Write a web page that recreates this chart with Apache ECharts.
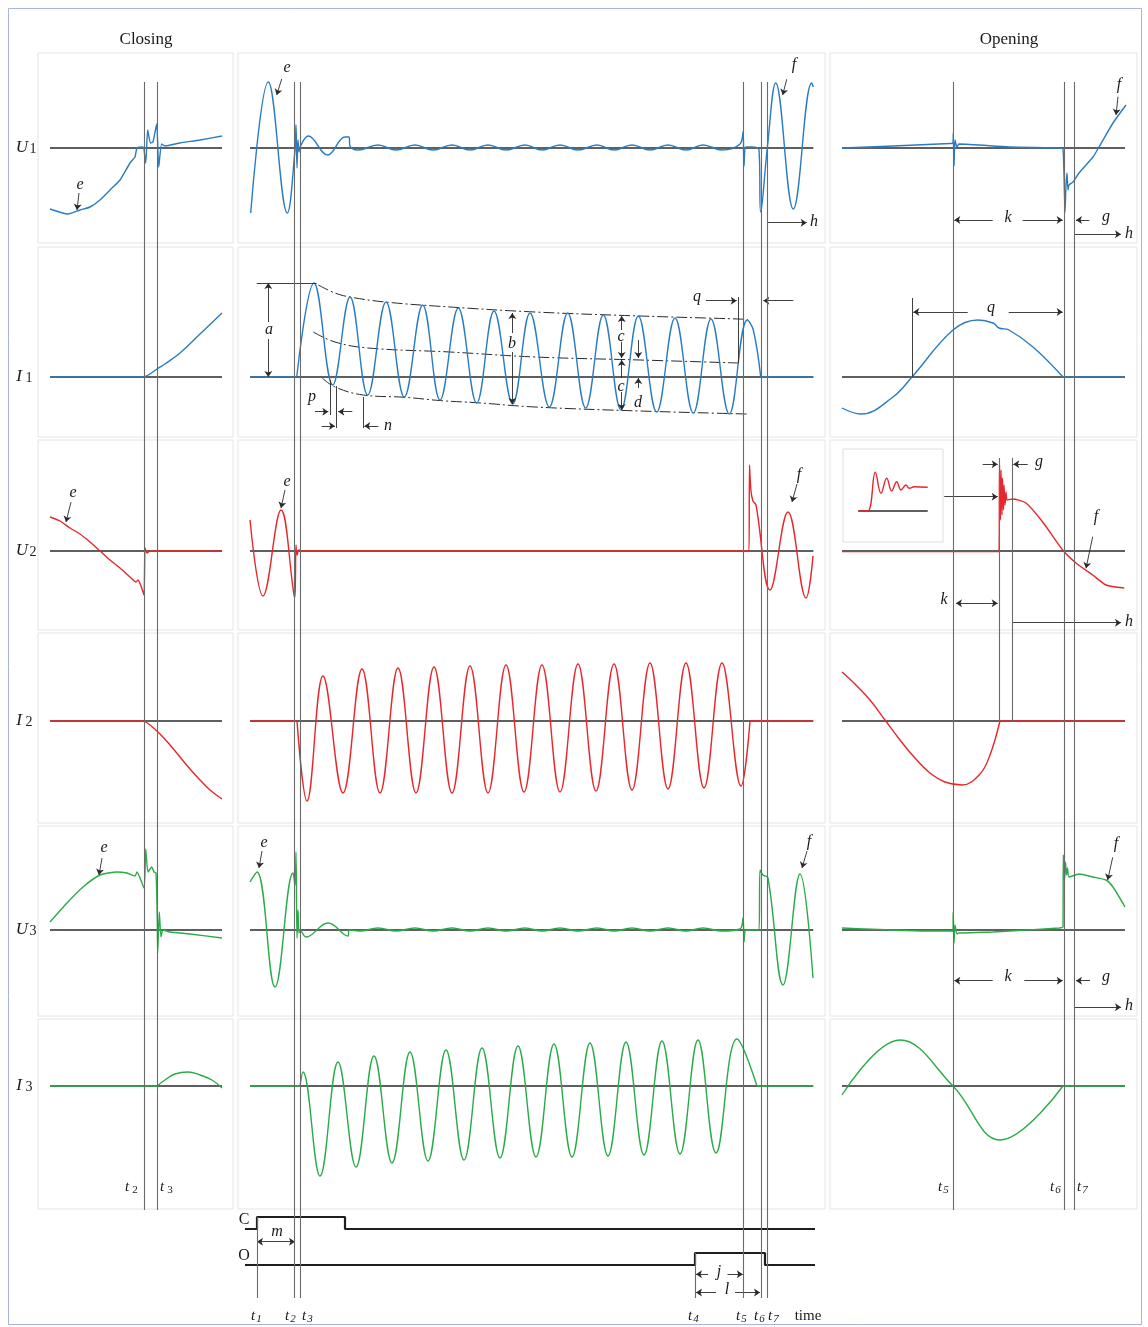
<!DOCTYPE html>
<html><head><meta charset="utf-8">
<script src="https://cdn.jsdelivr.net/npm/echarts@6/dist/echarts.min.js"></script>
<style>html,body{margin:0;padding:0;background:#fff}#c{width:1148px;height:1327px}</style>
</head><body><div id="c"></div>
<script>
// ================= DATA (time units, amplitude units; positive = up; null = corner / break) =================
// Closing column (zoomed on closing instants)
const closingU1 = [[0,-61],[18,-66],[30,-62],[40,-59],[50,-52],[60,-42],[70,-32],[80,-15],[85,-9],[87,0],[93,1],[95.7,-15],[97.7,18],[100.5,5],[103,6],[106.7,24],[108.7,-19],[111.7,4],[115,2],[130,5],[150,8],[172,12]];
const closingI1 = [[0,0],[94,0],null,[100,3],[107,8],[115,13],[130,24],[150,43],[172,64]];
const closingU2 = [[0,34],[10,30],[20,23],[30,17],[40,9],[50,0],[60,-9],[70,-17],[80,-26],[86,-31],[88,-29],[91,-35],[94,-44],[95,3],[97,-2],[100,0],[172,0]];
const closingI2 = [[0,0],[94,0],null,[100,-4],[110,-13],[120,-24],[130,-36],[140,-48],[150,-59],[160,-69],[172,-78]];
const closingU3 = [[0,8],[17,27],[33,43],[50,55],[67,58],[77,57],[85,54],[87,58],[94,42],[95.7,81],[98,58],[101.7,63],[104,58],[106,57],[107.3,10],[107.7,-23],[109.3,18],[111,-7],[113,0],[120,-2],[140,-4],[172,-8]];
const closingI3 = [[0,0],[107,0],null,[115,6],[125,12],[138,14],[150,11],[162,6],[172,-2]];

// Middle column (whole operation)
const middleU1 = [[0.7,-65],[18.3,66],[37.3,-65],[45,-2],[46,23],[47,-20],[48,8],[49,-4],[50,1],[58.3,12],[77.7,-7],[95,11],[99,11],[100,2],[108,-2],[128,3],[146,-2],[165,3],[183,-2],[202,3],[220,-2],[238,3],[256,-2],[275,3],[292,-2],[310,3],[328,-2],[347,3],[364,-2],[382,3],[400,-2],[418,3],[436,-2],[453,3],[472,-2],[490,4],[493,16],[494,-18],[496,1],[502,1],[509,-2],[510.7,-64],[517.3,0],[525.7,65],[543.3,-61],[561.7,65],[563.3,61]];
const middleI1 = [[0,0],[46.7,0],null,[64,94],[82.7,-8],[100,80],[117.7,-18],[136,75],[154.3,-20],[172.7,72],[190,-23],[208.3,69],[226.7,-26],[244,66],[262.7,-27],[280,64],[299.3,-30],[317.7,64],[335.7,-31],[353.3,62],[371,-33],[388.3,61],[406.7,-35],[425,59],[443.3,-36],[461,58],[479.3,-37],[497.3,57],[503.3,47],[510.7,0],null,[563.3,0]];
const envelopeUpper = [[68.3,92],[85,84],[100,80],[135,75],[200,70],[285,65],[390,61],[488.3,58],[498,57.5]];
const envelopeMiddle = [[63.3,45],[85,35],[118,29],[200,25],[285,20],[390,17],[488.3,14]];
const envelopeLower = [[72.3,-1],[85,-10],[113.3,-18],[155,-20.3],[191.7,-23.7],[226.7,-25.7],[285,-30],[390,-34],[496.7,-37]];
const middleU2 = [[0,31],[13,-45],[31,41],[44,-44],[45,-46],[46,6],[47,-4],[49,1],[52,0],[499,0],[499.5,86],[501,60],[503,50],[506,46],[520,-39],[538,39],[556,-47],[563,-5]];
const middleI2 = [[0,0],[47,0],null,[57,-80],[73,45],[93,-72],[112,52],[130,-72],[148,53],[166,-72],[184,54],[202,-72],[220,55],[238,-72],[256,56],[274,-71],[292,56],[310,-71],[328,57],[346,-70],[364,57],[382,-69],[400,58],[418,-68],[436,58],[454,-67],[472,58],[491,-65],[500,0],null,[563,0]];
const middleU3 = [[0,48],[7,58],[25,-57],[43,57],[45,45],[46,78],[47,-8],[48,20],[49,-3],[50,0],[56,-7],[78,7],[95,-5],[98,-6],[99,0],[110,-1],[128,2],[146,-1],[165,2],[183,-1],[202,2],[220,-1],[238,2],[256,-1],[275,2],[292,-1],[310,2],[328,-1],[347,2],[364,-1],[382,2],[400,-1],[418,2],[436,-1],[453,2],[472,-1],[490,1],[493,12],[494,-12],[496,0],[509,0],[510,60],[513,55],[518,52],[533,-55],[550,56],[563,-48]];
const middleI3 = [[0,0],[50,0],null,[53,14],[70,-90],[88,24],[106,-81],[124,30],[142,-77],[160,34],[178,-75],[196,36],[214,-74],[232,38],[250,-72],[268,40],[286,-71],[304,42],[322,-71],[340,43],[358,-70],[376,44],[394,-69],[412,45],[430,-68],[448,46],[466,-67],[487,47],[507,0],null,[563,0]];

// Opening column (zoomed on opening instants)
const openingU1 = [[0,0],[51,2],[108,4.5],[111,5],[111.3,15],[112,-18],[113,8],[115,1],[117,4],[167,1],[217,0],[221,-1],[223,-64],[224,-37],[225,-25],[226,-42],[227,-37],[231,-34],[237,-25],[251,-9],[257,1],[271,25],[284,43]];
const openingI1 = [[0,-31],[19,-37],[51,-20],[70,0],[111,47],[136,57],[151,54],[157,49],[167,47],[191,30],[221,0],null,[283,0]];
const openingU2 = [[0,-0.6],[157,-0.6],[157.5,86],[158.5,31],[159,81],[160,36],[160.5,73],[161.5,41],[162,66],[163,46],[164,59],[165,51],[170.7,52],[184,48],[200.7,29],[220.7,1],[234,-12],[250.7,-24],[264,-34],[282.3,-37]];
const insetU2 = [[0,0],[9.4,0],[17,38.7],[22.7,17.7],[28.4,32.7],[33.4,20],[38.4,29.3],[42.7,21],[47.7,26],[51,22.7],[56,24.3],[69.4,23.7]];
const openingI2 = [[0,49],[13,37],[28,21],[43,1],[58,-19],[73,-37],[88,-52],[103,-61],[120,-64],[138,-53],[148,-34],[158,0],null,[283,0]];
const openingU3 = [[0,2],[84,-1],[111,-1],[111.2,18],[112,-13],[113,5],[115,-4],[117,-3],[151,-2],[217,2],[221,3],[221.3,75],[222.5,50],[223.5,68],[224.5,55],[225.5,62],[227,53],[237,56],[251,53],[264,50],[271,43],[283,23]];
const openingI3 = [[0,-9],[58,46],[111,0],[158,-54],[221,0],null,[283,0]];

// Control signals (middle time base): logic levels
const signalC = [[-5,3],[7,3],[7,4],[95,4],[95,3],[565,3]];
const signalO = [[-5,0],[445,0],[445,1],[515,1],[515,0],[565,0]];

// Event instants
const closingEvents = [93.7, 107];                          // t2, t3
const middleEvents = [44.3, 50, 493.3, 510.7, 517.3];       // t2, t3, t5, t6, t7
const commandEvents = [7, 445];                             // t1, t4
const openingEvents = [110.7, 221.7, 232];                  // t5, t6, t7
const openingArcEvents = [157.3, 170];

const rowLabels = [['U','1'],['I','1'],['U','2'],['I','2'],['U','3'],['I','3']];

// ================= LAYOUT =================
const COLS = [{left:38,width:195,t0:50,span:172},{left:238,width:587,t0:250,span:563.3},{left:830,width:307,t0:842,span:283}];
const ROWS = [{top:53,zero:148},{top:247,zero:377},{top:440,zero:551},{top:633,zero:721},{top:826,zero:930},{top:1019,zero:1086}];
const PH = 190;
const BLUE='#2a7cc2', RED='#e8262b', GREEN='#2bab48', INK='#2a2a2a';
const SERIF='"Liberation Serif","DejaVu Serif",serif';
const gi = (r,c)=>r*3+c;
const INSET = 18, TIMING = 19;

const grids=[], xAxes=[], yAxes=[], series=[];
ROWS.forEach((R,r)=>COLS.forEach((C,c)=>{
  const i=gi(r,c);
  grids.push({left:C.left,top:R.top,width:C.width,height:PH,show:true,borderColor:'#e4e4e4',borderWidth:1,backgroundColor:'transparent'});
  xAxes.push({type:'value',gridIndex:i,min:C.left-C.t0,max:C.left+C.width-C.t0,show:false});
  yAxes.push({type:'value',gridIndex:i,min:R.zero-(R.top+PH),max:R.zero-R.top,show:false});
  series.push({type:'line',xAxisIndex:i,yAxisIndex:i,data:[[0,0],[C.span,0]],symbol:'none',silent:true,lineStyle:{color:INK,width:1.6},z:2});
}));
grids.push({left:843,top:449,width:100,height:93,show:true,borderColor:'#dedede',borderWidth:1,backgroundColor:'#fff'});
xAxes.push({type:'value',gridIndex:INSET,min:-15.3,max:84.7,show:false});
yAxes.push({type:'value',gridIndex:INSET,min:-31,max:62,show:false});
series.push({type:'line',xAxisIndex:INSET,yAxisIndex:INSET,data:[[0,0],[69.4,0]],symbol:'none',silent:true,lineStyle:{color:INK,width:1.4},z:2});
grids.push({left:238,top:1211,width:587,height:90,show:false});
xAxes.push({type:'value',gridIndex:TIMING,min:-12,max:575,show:false});
yAxes.push({type:'value',gridIndex:TIMING,min:-3,max:4.5,show:false});

// split at null: each segment is smoothed on its own, sharing the corner point
function segments(data){
  const out=[]; let cur=[];
  data.forEach(p=>{ if(p===null){ out.push(cur); cur=[cur[cur.length-1]]; } else cur.push(p); });
  out.push(cur); return out;
}
function wave(i,data,color,smooth,extra){
  segments(data).forEach(seg=>{
    series.push(Object.assign({type:'line',xAxisIndex:i,yAxisIndex:i,data:seg,symbol:'none',showSymbol:false,smooth:smooth,silent:true,lineStyle:{color,width:1.4},z:4},extra||{}));
  });
}
wave(gi(0,0),closingU1,BLUE,0.2);
wave(gi(1,0),closingI1,BLUE,0.4);
wave(gi(2,0),closingU2,RED,0.2);
wave(gi(3,0),closingI2,RED,0.4);
wave(gi(4,0),closingU3,GREEN,0.2);
wave(gi(5,0),closingI3,GREEN,0.4);
wave(gi(0,1),middleU1,BLUE,0.4);
wave(gi(1,1),middleI1,BLUE,0.4);
wave(gi(2,1),middleU2,RED,0.4);
wave(gi(3,1),middleI2,RED,0.4);
wave(gi(4,1),middleU3,GREEN,0.4);
wave(gi(5,1),middleI3,GREEN,0.4);
wave(gi(0,2),openingU1,BLUE,0.2);
wave(gi(1,2),openingI1,BLUE,0.4);
wave(gi(2,2),openingU2,RED,0.2);
wave(gi(3,2),openingI2,RED,0.4);
wave(gi(4,2),openingU3,GREEN,0.2);
wave(gi(5,2),openingI3,GREEN,0.4);
wave(INSET,insetU2,RED,0.4);
[envelopeUpper,envelopeMiddle,envelopeLower].forEach(d=>wave(gi(1,1),d,INK,0.4,{lineStyle:{color:INK,width:1,type:[11,3,2,3]},z:3}));
wave(TIMING,signalC,'#1e1e1e',false,{lineStyle:{color:'#1e1e1e',width:2.2}});
wave(TIMING,signalO,'#1e1e1e',false,{lineStyle:{color:'#1e1e1e',width:2.2}});

// ================= ANNOTATIONS =================
// [grid, from, to, heads(0 none,1 end,2 both)]
const annot = [
 [gi(0,0),[29,-45],[27,-62],1],
 [gi(2,0),[21,49],[16,29],1],
 [gi(4,0),[52,72],[49,55],1],
 [gi(0,1),[31.7,69],[26.7,53],1],
 [gi(0,1),[536.7,68.7],[532.7,53],1],
 [gi(0,1),[517.3,-74.7],[556.7,-74.7],1],
 [gi(1,1),[6.7,94],[66.7,94],0],
 [gi(1,1),[18.3,55],[18.3,94],1],[gi(1,1),[18.3,38],[18.3,0],1],
 [gi(1,1),[262.3,44],[262.3,64],1],[gi(1,1),[262.3,25],[262.3,-27],1],
 [gi(1,1),[371.7,47],[371.7,61],1],[gi(1,1),[371.7,35],[371.7,19],1],[gi(1,1),[371.7,-1],[371.7,17],1],[gi(1,1),[371.7,-15],[371.7,-33],1],
 [gi(1,1),[388.3,37],[388.3,19],1],[gi(1,1),[388.3,-11],[388.3,-1],1],
 [gi(1,1),[80,-3],[80,-38],0],[gi(1,1),[86,-9],[86,-51],0],[gi(1,1),[113.3,-20],[113.3,-51],0],
 [gi(1,1),[65,-34.7],[78.3,-34.7],1],[gi(1,1),[102.3,-34.7],[88.3,-34.7],1],
 [gi(1,1),[71.7,-49],[85,-49],1],[gi(1,1),[128.3,-49],[114.3,-49],1],
 [gi(1,1),[488.3,80],[488.3,14],0],
 [gi(1,1),[456,76.3],[486.7,76.3],1],[gi(1,1),[543.3,76.3],[513.3,76.3],1],
 [gi(2,1),[35,61],[31,43],1],[gi(2,1),[547,67],[542,49],1],
 [gi(4,1),[12,79],[9,62],1],[gi(4,1),[557,79],[552,62],1],
 [gi(0,2),[150.7,-72],[112.3,-72],1],[gi(0,2),[180.7,-72],[220.7,-72],1],[gi(0,2),[247.3,-72],[234,-72],1],[gi(0,2),[232.3,-86.3],[279,-86.3],1],[gi(0,2),[276,51.3],[274,33],1],
 [gi(1,2),[70,0],[70,79],0],
 [gi(1,2),[125.7,65],[71.3,65],1],[gi(1,2),[166.7,65],[220.7,65],1],
 [gi(2,2),[102.3,54.3],[155.7,54.3],1],[gi(2,2),[140.7,86.7],[155.7,86.7],1],[gi(2,2),[185.7,86.7],[171.3,86.7],1],[gi(2,2),[114,-52.3],[155.7,-52.3],2],[gi(2,2),[170.7,-71.7],[279,-71.7],1],[gi(2,2),[250.7,14.3],[244,-17.3],1],
 [gi(4,2),[150.7,-50.7],[112.3,-50.7],1],[gi(4,2),[182.3,-50.7],[220.7,-50.7],1],[gi(4,2),[248,-50.7],[234,-50.7],1],[gi(4,2),[232.3,-77.3],[279,-77.3],1],[gi(4,2),[270.7,72.7],[265.7,50],1],
 [TIMING,[7,1.94],[45,1.94],2],[TIMING,[458,-0.78],[446,-0.78],1],[TIMING,[477.5,-0.78],[492.8,-0.78],1],[TIMING,[466,-2.3],[446,-2.3],1],[TIMING,[485,-2.3],[510,-2.3],1]
];
annot.forEach(([i,a,b,h])=>{
  series.push({type:'lines',coordinateSystem:'cartesian2d',xAxisIndex:i,yAxisIndex:i,silent:true,z:5,
    symbol: h===2?['arrow','arrow']:(h===1?['none','arrow']:['none','none']),symbolSize:6,
    lineStyle:{color:INK,width:0.9,opacity:1,curveness:0},data:[{coords:[a,b]}]});
});

const letters = [
 ['e',80,185],['e',73,493],['e',104,848],
 ['e',287,68],['f',794,65],['h',814,222],
 ['a',269,330],['b',512,344],['c',621,337],['c',621,387],['d',638,403],['p',312,397],['n',388,426],['q',697,297],
 ['e',287,482],['f',799,475],['e',264,843],['f',809,842],
 ['k',1008,218],['g',1106,217],['h',1129,234],['f',1119,85],
 ['q',991,308],
 ['g',1039,462],['k',944,600],['h',1129,622],['f',1096,517],
 ['k',1008,977],['g',1106,977],['h',1129,1006],['f',1116,844],
 ['m',277,1232],['j',719,1272],['l',727,1290]
];

const chart = echarts.init(document.getElementById('c'),null,{renderer:'canvas',width:1148,height:1327});
chart.setOption({animation:false,backgroundColor:'#fff',grid:grids,xAxis:xAxes,yAxis:yAxes,series});

const G=[];
G.push({type:'rect',shape:{x:8.5,y:8.5,width:1133,height:1316},style:{fill:'none',stroke:'#a9b4de',lineWidth:1},z:0});
function txt(t,x,y,font,align){G.push({type:'text',x,y,style:{text:t,font,fill:'#1a1a1a',align:align||'center',verticalAlign:'middle',textAlign:align||'center',textVerticalAlign:'middle'},z:20});}
txt('Closing',146,40,'17px '+SERIF);
txt('Opening',1009,40,'17px '+SERIF);
rowLabels.forEach(([s,n],r)=>{
  const y=ROWS[r].zero;
  if(s==='U'){ txt(s,22,y,'italic 17px '+SERIF); txt(n,33,y+1,'14px '+SERIF); }
  else { txt(s,19,y,'italic 17px '+SERIF); txt(n,29,y+1,'14px '+SERIF); }
});
letters.forEach(([s,x,y])=>txt(s,x,y,'italic 16px '+SERIF));
function tlab(x,y,n,sp){txt('t',x-(sp?4:3),y,'italic 15px '+SERIF);txt(n,x+(sp?4:3),y+3,(sp?'':'italic ')+'11px '+SERIF);}
tlab(131,1187,'2',true);tlab(166,1187,'3',true);
tlab(943,1187,'5',false);tlab(1055,1187,'6',false);tlab(1082,1187,'7',false);
[['1',256],['2',290],['3',307],['4',693],['5',741],['6',759],['7',773]].forEach(([n,x])=>tlab(x,1316,n,false));
txt('time',808,1316,'15px '+SERIF);
txt('C',244,1220,'16px '+SERIF);
txt('O',244,1256,'16px '+SERIF);

function vline(axis,t,y1,y2){
  const x=Math.round(chart.convertToPixel({xAxisIndex:axis},t))+0.5;
  G.push({type:'line',shape:{x1:x,y1,x2:x,y2},style:{stroke:'#6a6a6a',lineWidth:1.1},z:10});
}
closingEvents.forEach(t=>vline(gi(0,0),t,82,1210));
middleEvents.forEach(t=>vline(gi(0,1),t,82,1298));
const cHigh = chart.convertToPixel({yAxisIndex:TIMING},4), oHigh = chart.convertToPixel({yAxisIndex:TIMING},1);
vline(TIMING,commandEvents[0],cHigh,1298);
vline(TIMING,commandEvents[1],oHigh,1298);
openingEvents.forEach(t=>vline(gi(0,2),t,82,1210));
openingArcEvents.forEach(t=>vline(gi(0,2),t,458,721));
chart.setOption({graphic:G});
</script></body></html>
